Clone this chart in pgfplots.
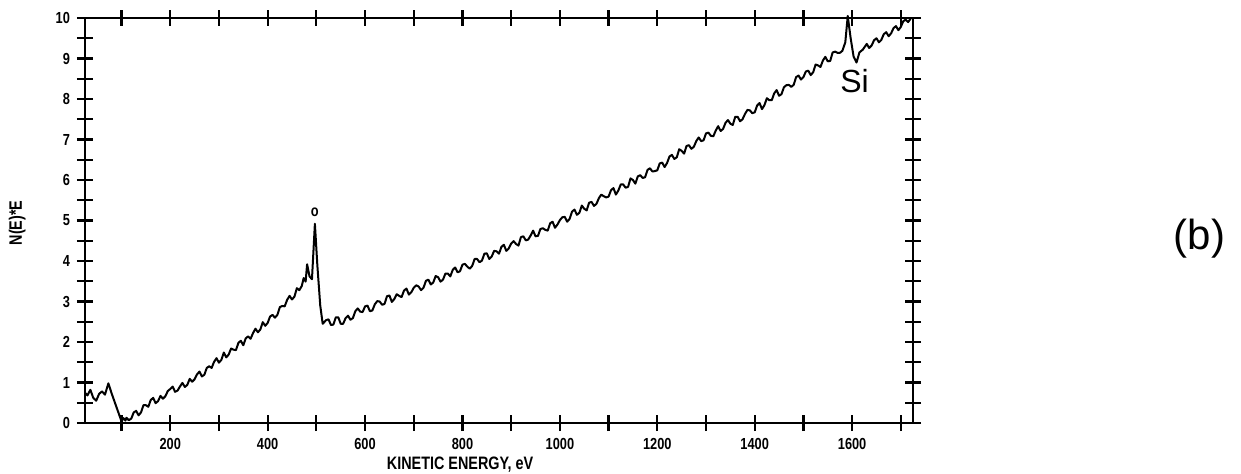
\documentclass[border=0pt]{standalone}
\usepackage{fontspec}
\setmainfont{Liberation Sans}[FakeStretch=0.8]
\newfontfamily\plainfont{Liberation Sans}
\usepackage{pgfplots}
\pgfplotsset{compat=1.18}
\begin{document}
\begin{tikzpicture}
\useasboundingbox (0,0) rectangle (620.5pt,236.5pt);
\begin{axis}[
  at={(42.5pt,25pt)}, anchor=south west,
  scale only axis, width=414pt, height=202.5pt,
  xmin=25, xmax=1725, ymin=0, ymax=10,
  xtick={200,400,...,1600}, minor xtick={100,300,...,1700},
  ytick={0,1,...,10}, minor ytick={0.5,1.5,...,9.5},
  tick align=center, major tick length=8pt, minor tick length=8pt,
  every tick/.style={black, line width=1.1pt},
  axis line style={line width=1.4pt},
  /pgf/number format/assume math mode=true,
  /pgf/number format/set thousands separator={},
  tick label style={font=\bfseries\footnotesize},
  xticklabel style={yshift=0pt},
  xlabel={\bfseries\small KINETIC ENERGY, eV},
  xlabel style={at={(rel axis cs:0.453,-0.103)}, anchor=center},
  ylabel={\bfseries\small N(E)*E},
  ylabel style={at={(rel axis cs:-0.082,0.494)}, anchor=center},
  clip=false,
]
\addplot[black, line width=1.0pt, line join=round] coordinates {
(25,0.75)(30,0.68)(36,0.82)(42,0.62)(48,0.55)(54,0.72)(60,0.78)(66,0.70)(73,0.98)(80,0.72)(90,0.38)(100,0.04)(104,0.12)(108,0.06)
(110,0.13)(115,0.07)(120,0.11)(125,0.26)(130,0.30)(135,0.19)(140,0.26)(145,0.44)(150,0.44)(155,0.40)(160,0.57)(165,0.62)(170,0.49)(175,0.54)(180,0.67)(185,0.60)(190,0.66)(195,0.79)(200,0.84)
(205,0.90)(210,0.77)(215,0.80)(220,0.90)(225,0.99)(230,0.89)(235,0.94)(240,1.09)(245,1.02)(250,1.08)(255,1.20)(260,1.27)(265,1.15)(270,1.19)(275,1.36)(280,1.40)(285,1.36)(290,1.51)(295,1.60)(300,1.49)
(305,1.56)(310,1.74)(315,1.62)(320,1.69)(325,1.84)(330,1.81)(335,1.80)(340,1.98)(345,2.03)(350,1.92)(355,2.09)(360,2.14)(365,2.08)(370,2.22)(375,2.33)(380,2.24)(385,2.31)(390,2.49)(395,2.40)(400,2.47)
(405,2.63)(410,2.67)(415,2.60)(420,2.67)(425,2.86)(430,2.89)(435,2.88)(440,3.04)(445,3.14)(450,3.05)(455,3.12)(460,3.33)(465,3.28)(470,3.38)(474,3.58)(478,3.49)
(481,3.92)(486,3.62)(491,3.55)(497,4.92)(502,3.90)(508,2.90)(513,2.45)
(520,2.54)(525,2.56)(530,2.42)(535,2.43)(540,2.61)(545,2.61)(550,2.45)(555,2.45)(560,2.59)(565,2.65)(570,2.55)(575,2.59)(580,2.76)(585,2.83)(590,2.75)(595,2.74)(600,2.88)
(605,2.90)(610,2.76)(615,2.78)(620,2.93)(625,3.01)(630,3.00)(635,2.92)(640,2.94)(645,3.13)(650,3.15)(655,2.99)(660,3.06)(665,3.18)(670,3.14)(675,3.11)(680,3.27)(685,3.32)(690,3.17)(695,3.23)(700,3.34)
(705,3.40)(710,3.37)(715,3.28)(720,3.34)(725,3.51)(730,3.54)(735,3.42)(740,3.47)(745,3.63)(750,3.60)(755,3.49)(760,3.54)(765,3.69)(770,3.69)(775,3.62)(780,3.78)(785,3.84)(790,3.72)(795,3.75)(800,3.91)
(805,3.93)(810,3.86)(815,3.81)(820,3.88)(825,4.05)(830,4.05)(835,3.97)(840,4.01)(845,4.18)(850,4.19)(855,4.05)(860,4.11)(865,4.25)(870,4.24)(875,4.18)(880,4.35)(885,4.40)(890,4.25)(895,4.31)(900,4.43)
(905,4.49)(910,4.42)(915,4.38)(920,4.59)(925,4.61)(930,4.51)(935,4.53)(940,4.63)(945,4.75)(950,4.61)(955,4.62)(960,4.79)(965,4.81)(970,4.77)(975,4.75)(980,4.93)(985,4.97)(990,4.82)(995,4.90)(1000,5.01)
(1005,5.08)(1010,5.09)(1015,4.97)(1020,5.04)(1025,5.22)(1030,5.27)(1035,5.14)(1040,5.19)(1045,5.37)(1050,5.29)(1055,5.25)(1060,5.44)(1065,5.46)(1070,5.36)(1075,5.41)(1080,5.55)(1085,5.64)(1090,5.60)(1095,5.57)(1100,5.59)
(1105,5.75)(1110,5.80)(1115,5.64)(1120,5.74)(1125,5.89)(1130,5.89)(1135,5.81)(1140,5.83)(1145,6.04)(1150,6.00)(1155,5.91)(1160,6.09)(1165,6.12)(1170,6.05)(1175,6.07)(1180,6.25)(1185,6.29)(1190,6.21)(1195,6.22)(1200,6.24)
(1205,6.41)(1210,6.43)(1215,6.32)(1220,6.42)(1225,6.58)(1230,6.62)(1235,6.52)(1240,6.56)(1245,6.76)(1250,6.72)(1255,6.65)(1260,6.84)(1265,6.86)(1270,6.77)(1275,6.82)(1280,6.96)(1285,7.05)(1290,6.96)(1295,6.98)(1300,7.15)
(1305,7.17)(1310,7.09)(1315,7.08)(1320,7.22)(1325,7.33)(1330,7.21)(1335,7.26)(1340,7.41)(1345,7.48)(1350,7.39)(1355,7.36)(1360,7.56)(1365,7.56)(1370,7.45)(1375,7.50)(1380,7.63)(1385,7.73)(1390,7.72)(1395,7.65)(1400,7.67)
(1405,7.84)(1410,7.90)(1415,7.75)(1420,7.85)(1425,8.02)(1430,7.97)(1435,7.97)(1440,8.14)(1445,8.22)(1450,8.08)(1455,8.12)(1460,8.29)(1465,8.34)(1470,8.35)(1475,8.30)(1480,8.35)(1485,8.54)(1490,8.58)(1495,8.48)(1500,8.54)
(1505,8.68)(1510,8.70)(1515,8.59)(1520,8.66)(1525,8.85)(1530,8.83)(1535,8.79)(1540,8.95)(1545,9.04)(1550,8.93)(1555,8.94)(1560,9.15)(1565,9.17)(1570,9.14)(1575,9.14)(1580,9.19)
(1586,9.40)(1591,10.05)(1597,9.50)(1603,9.05)(1609,8.90)(1615,9.15)(1622,9.22)(1630,9.36)(1635,9.26)(1640,9.32)(1645,9.45)
(1650,9.50)(1655,9.40)(1660,9.46)(1665,9.60)(1670,9.65)(1675,9.55)(1680,9.62)(1685,9.75)(1690,9.80)(1695,9.70)(1700,9.78)(1705,9.92)(1710,9.96)(1715,9.90)(1720,9.98)
};
\node[font=\bfseries\footnotesize] at (axis cs:497,5.2) {o};
\node[font=\plainfont\fontsize{16}{18}\selectfont] at (axis cs:1605,8.45) {Si};
\node[font=\plainfont\fontsize{21}{24}\selectfont] at (rel axis cs:1.346,0.455) {(b)};
\end{axis}
\end{tikzpicture}
\end{document}
